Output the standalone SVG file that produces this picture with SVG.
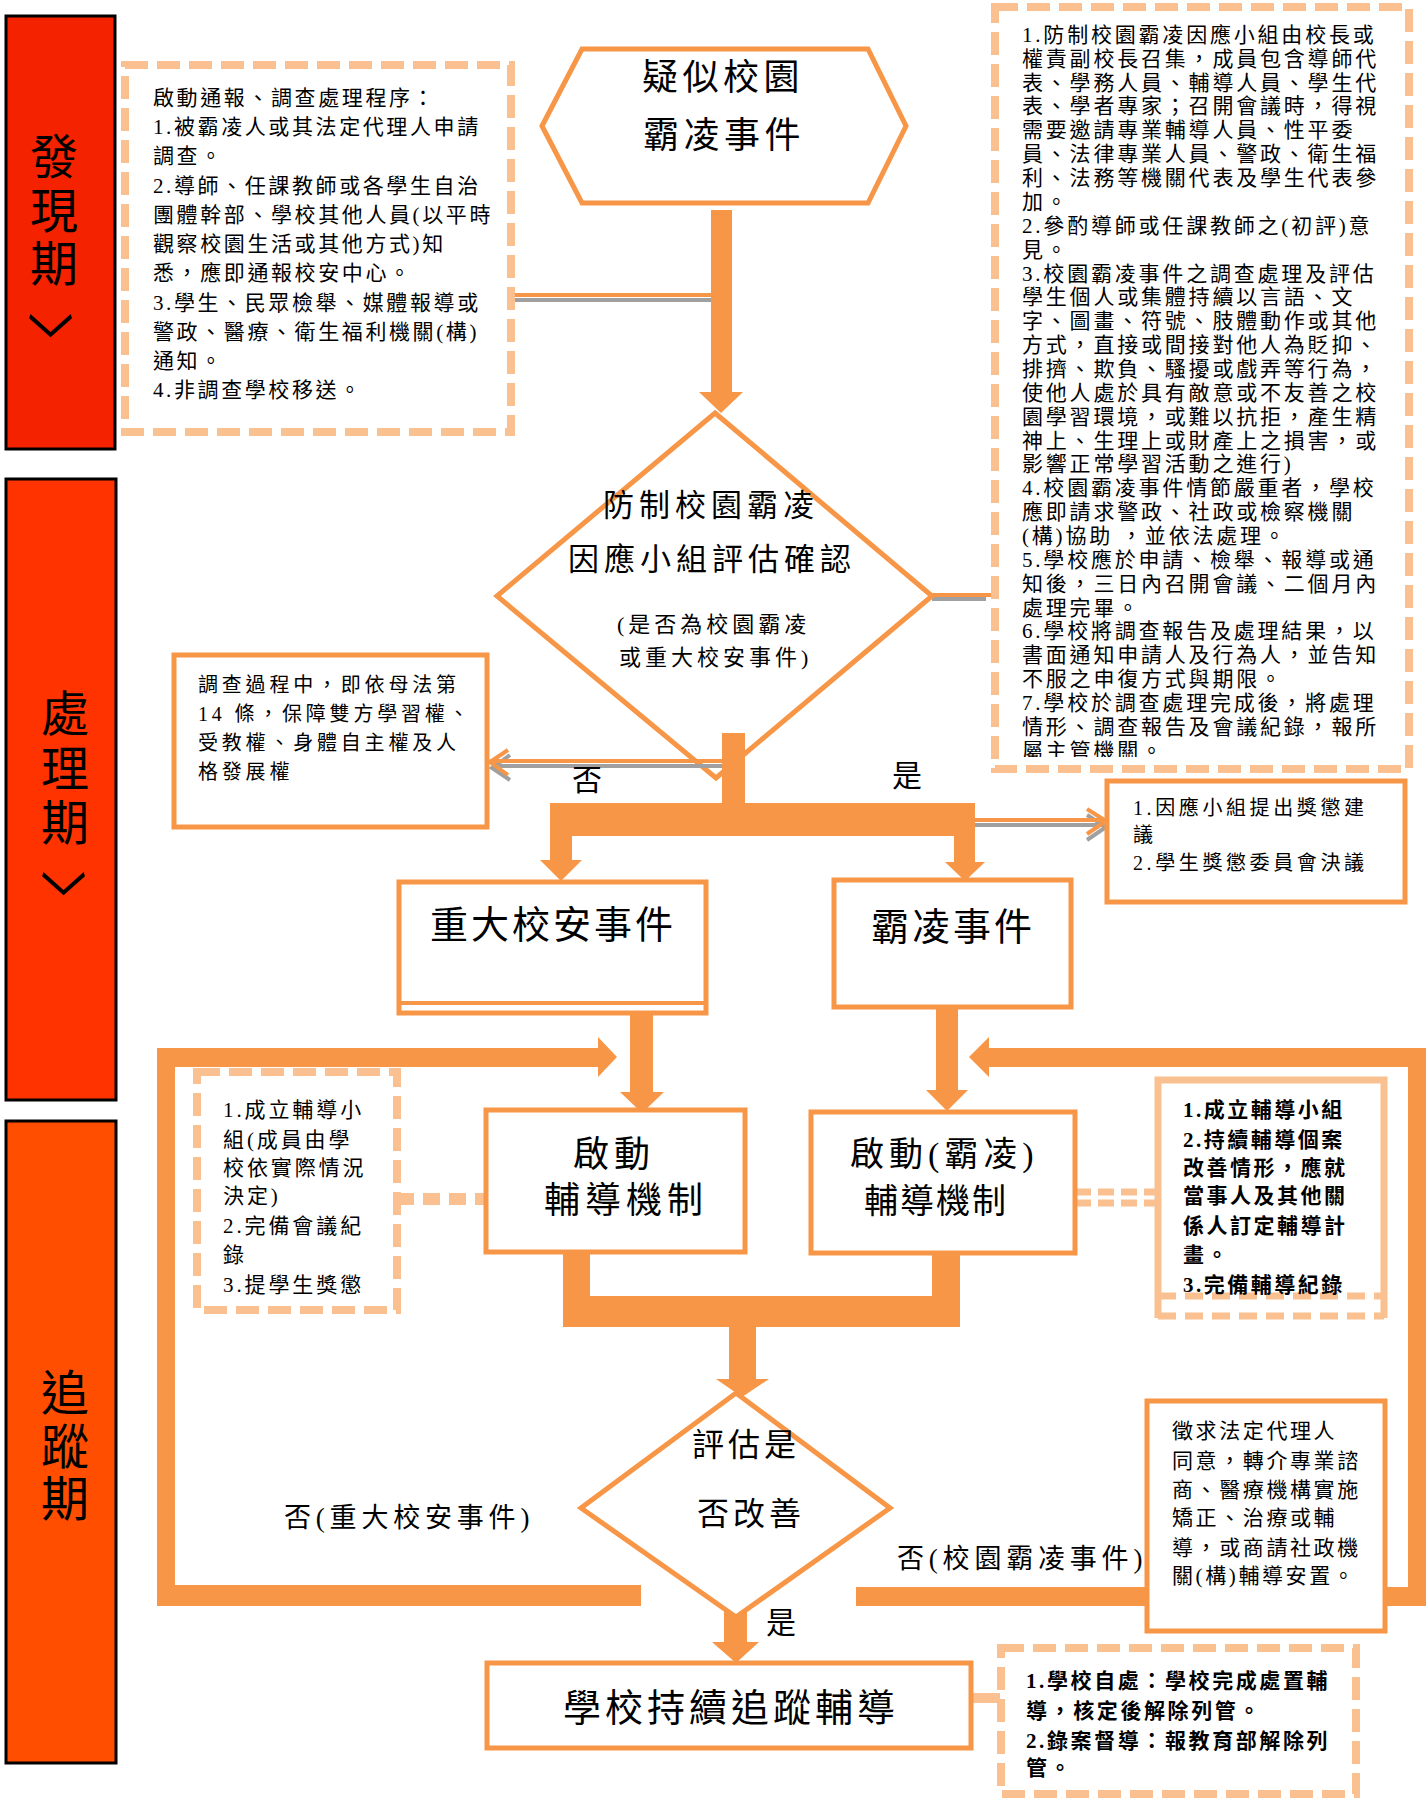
<svg xmlns="http://www.w3.org/2000/svg" width="1426" height="1798" viewBox="0 0 1426 1798">
<defs>
<style>
text{font-family:"Liberation Serif","Noto Sans CJK TC",serif;fill:#000}
.o{fill:#F79646}
.ol{fill:#fff;stroke:#F79646;stroke-width:5}
.dbox{fill:#fff;stroke:#FAC090;stroke-width:8;stroke-dasharray:23 9}
.oline{fill:none;stroke:#F79646;stroke-width:4}
.gline{fill:none;stroke:#A0A0A0;stroke-width:4}
.phase{stroke:#000;stroke-width:3}
.ph{font-size:48px;text-anchor:middle}
.chev{font-family:"Noto Sans CJK TC",sans-serif;font-size:46px;text-anchor:middle;dominant-baseline:central}
.s20{font-size:20px;letter-spacing:3.8px}
.s21n{font-size:21px;letter-spacing:2.6px}
.s21{font-size:21px;letter-spacing:2.8px}
.s21b{font-size:21px;letter-spacing:2.5px;font-weight:bold}
.big{font-size:36px;letter-spacing:4.5px}
.mid{font-size:31px;letter-spacing:5px}
.sm{font-size:22px;letter-spacing:4px}
.lab{font-size:30px}
.l27{font-size:27px;letter-spacing:4.8px}
</style>
<clipPath id="rclip"><rect x="990" y="0" width="430" height="757"/></clipPath>
</defs>
<rect width="1426" height="1798" fill="#fff"/>

<g id="phase-discovery">
<rect class="phase" x="6" y="16" width="109" height="433" fill="#F52200"/>
<text class="ph" x="54" y="174">發</text>
<text class="ph" x="54" y="228">現</text>
<text class="ph" x="54" y="281">期</text>
<text class="chev" transform="translate(54,343) rotate(90) scale(1.4,1)">〉</text>
</g>
<g id="phase-processing">
<rect class="phase" x="6" y="479" width="110" height="621" fill="#FF3300"/>
<text class="ph" x="65" y="731">處</text>
<text class="ph" x="65" y="786">理</text>
<text class="ph" x="65" y="840">期</text>
<text class="chev" transform="translate(67,901) rotate(90) scale(1.4,1)">〉</text>
</g>
<g id="phase-tracking">
<rect class="phase" x="6" y="1121" width="110" height="642" fill="#FF4E00"/>
<text class="ph" x="65" y="1410">追</text>
<text class="ph" x="65" y="1464">蹤</text>
<text class="ph" x="65" y="1516">期</text>
</g>

<g id="connectors">
<line class="gline" x1="511" y1="300" x2="711" y2="300"/>
<line class="oline" x1="511" y1="295" x2="711" y2="295"/>
<rect class="o" x="711" y="210" width="21" height="182"/>
<polygon class="o" points="699,392 743,392 721,413"/>
<line class="gline" x1="932" y1="599" x2="986" y2="599"/>
<line class="oline" x1="932" y1="595" x2="996" y2="595"/>
<rect class="o" x="157" y="1048" width="18" height="558"/>
<rect class="o" x="157" y="1048" width="445" height="19"/>
<polygon class="o" points="598,1037 617,1057 598,1077"/>
<rect class="o" x="157" y="1585" width="484" height="21"/>
<rect class="o" x="1408" y="1048" width="18" height="558"/>
<rect class="o" x="987" y="1048" width="439" height="19"/>
<polygon class="o" points="989,1037 969,1057 989,1077"/>
<rect class="o" x="856" y="1587" width="570" height="19"/>
<rect class="o" x="630" y="1012" width="23" height="80"/>
<polygon class="o" points="620,1092 664,1092 642,1113"/>
<rect class="o" x="936" y="1007" width="22" height="83"/>
<polygon class="o" points="926,1090 968,1090 947,1111"/>
<rect class="o" x="563" y="1250" width="27" height="77"/>
<rect class="o" x="932" y="1251" width="28" height="76"/>
<rect class="o" x="563" y="1296" width="397" height="31"/>
<rect class="o" x="729" y="1327" width="27" height="53"/>
<polygon class="o" points="716,1379 769,1379 742,1397"/>
<rect class="o" x="724" y="1603" width="23" height="40"/>
<polygon class="o" points="712,1642 759,1642 736,1663"/>
<line x1="397" y1="1199" x2="486" y2="1199" stroke="#FAC090" stroke-width="12" stroke-dasharray="17 9"/>
<line x1="1075" y1="1192" x2="1155" y2="1192" stroke="#FAC090" stroke-width="7" stroke-dasharray="16 7"/>
<line x1="1075" y1="1203" x2="1155" y2="1203" stroke="#FAC090" stroke-width="7" stroke-dasharray="16 7"/>
<rect x="971" y="1693" width="29" height="10" fill="#FAC090"/>
</g>

<g id="notify-box">
<rect class="dbox" x="125" y="65" width="386" height="367"/>
<g class="s21n">
<text x="153" y="105">啟動通報、調查處理程序：</text>
<text x="153" y="134">1.被霸凌人或其法定代理人申請</text>
<text x="153" y="163">調查。</text>
<text x="153" y="193">2.導師、任課教師或各學生自治</text>
<text x="153" y="222">團體幹部、學校其他人員(以平時</text>
<text x="153" y="251">觀察校園生活或其他方式)知</text>
<text x="153" y="280">悉，應即通報校安中心。</text>
<text x="153" y="310">3.學生、民眾檢舉、媒體報導或</text>
<text x="153" y="339">警政、醫療、衛生福利機關(構)</text>
<text x="153" y="368">通知。</text>
<text x="153" y="397">4.非調查學校移送。</text>
</g>
</g>

<g id="start-node">
<polygon class="ol" points="542,126 582,49 868,49 906,126 868,203 582,203"/>
<text class="big" x="642" y="90">疑似校園</text>
<text class="big" x="643" y="148">霸凌事件</text>
</g>

<g id="team-notes">
<rect class="dbox" x="995" y="7" width="414" height="762"/>
<g class="s21" clip-path="url(#rclip)">
<text x="1022" y="42">1.防制校園霸凌因應小組由校長或</text>
<text x="1022" y="66">權責副校長召集，成員包含導師代</text>
<text x="1022" y="90">表、學務人員、輔導人員、學生代</text>
<text x="1022" y="113">表、學者專家；召開會議時，得視</text>
<text x="1022" y="137">需要邀請專業輔導人員、性平委</text>
<text x="1022" y="161">員、法律專業人員、警政、衛生福</text>
<text x="1022" y="185">利、法務等機關代表及學生代表參</text>
<text x="1022" y="209">加。</text>
<text x="1022" y="233">2.參酌導師或任課教師之(初評)意</text>
<text x="1022" y="257">見。</text>
<text x="1022" y="281">3.校園霸凌事件之調查處理及評估</text>
<text x="1022" y="304">學生個人或集體持續以言語、文</text>
<text x="1022" y="328">字、圖畫、符號、肢體動作或其他</text>
<text x="1022" y="352">方式，直接或間接對他人為貶抑、</text>
<text x="1022" y="376">排擠、欺負、騷擾或戲弄等行為，</text>
<text x="1022" y="400">使他人處於具有敵意或不友善之校</text>
<text x="1022" y="424">園學習環境，或難以抗拒，產生精</text>
<text x="1022" y="448">神上、生理上或財產上之損害，或</text>
<text x="1022" y="471">影響正常學習活動之進行)</text>
<text x="1022" y="495">4.校園霸凌事件情節嚴重者，學校</text>
<text x="1022" y="519">應即請求警政、社政或檢察機關</text>
<text x="1022" y="543">(構)協助 ，並依法處理。</text>
<text x="1022" y="567">5.學校應於申請、檢舉、報導或通</text>
<text x="1022" y="591">知後，三日內召開會議、二個月內</text>
<text x="1022" y="615">處理完畢。</text>
<text x="1022" y="638">6.學校將調查報告及處理結果，以</text>
<text x="1022" y="662">書面通知申請人及行為人，並告知</text>
<text x="1022" y="686">不服之申復方式與期限。</text>
<text x="1022" y="710">7.學校於調查處理完成後，將處理</text>
<text x="1022" y="734">情形、調查報告及會議紀錄，報所</text>
<text x="1022" y="758">屬主管機關。</text>
</g>
</g>

<g id="assess-node">
<polygon class="ol" points="715,413 932,596 716,778 497,596"/>
<text class="mid" x="603" y="516">防制校園霸凌</text>
<text class="mid" x="568" y="570">因應小組評估確認</text>
<text class="sm" x="617" y="632">(是否為校園霸凌</text>
<text class="sm" x="619" y="665">或重大校安事件)</text>
</g>

<g id="branch">
<rect class="o" x="722" y="733" width="23" height="75"/>
<rect class="o" x="550" y="803" width="425" height="33"/>
<rect class="o" x="550" y="830" width="22" height="31"/>
<polygon class="o" points="540,860 582,860 561,881"/>
<rect class="o" x="954" y="830" width="21" height="33"/>
<polygon class="o" points="945,862 985,862 965,881"/>
<polyline class="gline" points="722,766 493,766"/>
<polyline class="gline" points="510,755 492,768 510,780"/>
<polyline class="oline" points="722,761 490,761"/>
<polyline class="oline" points="508,750 490,762 508,775"/>
<polyline class="gline" points="975,825 1104,825"/>
<polyline class="gline" points="1087,815 1106,827 1087,840"/>
<polyline class="oline" points="975,820 1105,820"/>
<polyline class="oline" points="1087,809 1106,821 1087,834"/>
<text class="lab" x="572" y="790">否</text>
<text class="lab" x="892" y="786">是</text>
</g>

<g id="rights-box">
<rect class="ol" x="174" y="655" width="313" height="172"/>
<g class="s20">
<text x="198" y="692">調查過程中，即依母法第</text>
<text x="198" y="721">14 條，保障雙方學習權、</text>
<text x="198" y="750">受教權、身體自主權及人</text>
<text x="198" y="779">格發展權</text>
</g>
</g>

<g id="discipline-box">
<rect class="ol" x="1107" y="781" width="298" height="121"/>
<g class="s20" style="letter-spacing:3.6px">
<text x="1133" y="815">1.因應小組提出獎懲建</text>
<text x="1133" y="842">議</text>
<text x="1133" y="870">2.學生獎懲委員會決議</text>
</g>
</g>

<g id="major-node">
<rect class="ol" x="399" y="882" width="307" height="131"/>
<line x1="399" y1="1003" x2="706" y2="1003" stroke="#F79646" stroke-width="4"/>
<text x="430" y="938" style="font-size:38px;letter-spacing:3px">重大校安事件</text>
</g>

<g id="bully-node">
<rect class="ol" x="834" y="880" width="237" height="127"/>
<text x="871" y="940" style="font-size:38px;letter-spacing:3px">霸凌事件</text>
</g>

<g id="major-tasks">
<rect class="dbox" x="197" y="1072" width="200" height="238"/>
<g class="s21" style="letter-spacing:2.9px">
<text x="223" y="1117">1.成立輔導小</text>
<text x="223" y="1147">組(成員由學</text>
<text x="223" y="1175">校依實際情況</text>
<text x="223" y="1203">決定)</text>
<text x="223" y="1233">2.完備會議紀</text>
<text x="223" y="1262">錄</text>
<text x="223" y="1292">3.提學生獎懲</text>
</g>
</g>

<g id="major-counsel">
<rect class="ol" x="486" y="1110" width="259" height="142"/>
<text x="573" y="1167" style="font-size:36px;letter-spacing:5px">啟動</text>
<text x="544" y="1213" style="font-size:36px;letter-spacing:5px">輔導機制</text>
</g>

<g id="bully-counsel">
<rect class="ol" x="811" y="1112" width="264" height="141"/>
<text x="850" y="1166" style="font-size:34px;letter-spacing:5px">啟動(霸凌)</text>
<text x="864" y="1213" style="font-size:34px;letter-spacing:2px">輔導機制</text>
</g>

<g id="bully-tasks">
<rect x="1158" y="1080" width="226" height="236" fill="#fff"/>
<polyline points="1158,1318 1158,1080 1384,1080 1384,1318" fill="none" stroke="#FAC090" stroke-width="7"/>
<line x1="1158" y1="1296" x2="1384" y2="1296" stroke="#FAC090" stroke-width="7" stroke-dasharray="18 9"/>
<line x1="1158" y1="1316" x2="1384" y2="1316" stroke="#FAC090" stroke-width="7" stroke-dasharray="18 9"/>
<g class="s21b">
<text x="1183" y="1117">1.成立輔導小組</text>
<text x="1183" y="1147">2.持續輔導個案</text>
<text x="1183" y="1175">改善情形，應就</text>
<text x="1183" y="1203">當事人及其他關</text>
<text x="1183" y="1233">係人訂定輔導計</text>
<text x="1183" y="1262">畫。</text>
<text x="1183" y="1292">3.完備輔導紀錄</text>
</g>
</g>

<g id="improve-node">
<polygon class="ol" points="736,1393 890,1508 736,1617 581,1508"/>
<text x="692" y="1456" style="font-size:32px;letter-spacing:4px">評估是</text>
<text x="697" y="1525" style="font-size:32px;letter-spacing:4px">否改善</text>
</g>

<g id="loop-labels">
<text class="l27" x="284" y="1527">否(重大校安事件)</text>
<text class="l27" x="897" y="1568">否(校園霸凌事件)</text>
<text class="lab" x="766" y="1633">是</text>
</g>

<g id="referral-box">
<rect class="ol" x="1147" y="1401" width="238" height="230"/>
<g class="s21" style="letter-spacing:2.6px">
<text x="1172" y="1438">徵求法定代理人</text>
<text x="1172" y="1468">同意，轉介專業諮</text>
<text x="1172" y="1497">商、醫療機構實施</text>
<text x="1172" y="1525">矯正、治療或輔</text>
<text x="1172" y="1555">導，或商請社政機</text>
<text x="1172" y="1583">關(構)輔導安置。</text>
</g>
</g>

<g id="track-node">
<rect class="ol" x="487" y="1663" width="484" height="85"/>
<text x="563" y="1721" style="font-size:38px;letter-spacing:4px">學校持續追蹤輔導</text>
</g>

<g id="close-box">
<rect class="dbox" x="1001" y="1648" width="355" height="146"/>
<g class="s21b" style="letter-spacing:2.6px">
<text x="1026" y="1688">1.學校自處：學校完成處置輔</text>
<text x="1026" y="1718">導，核定後解除列管。</text>
<text x="1026" y="1748">2.錄案督導：報教育部解除列</text>
<text x="1026" y="1775">管。</text>
</g>
</g>
</svg>
